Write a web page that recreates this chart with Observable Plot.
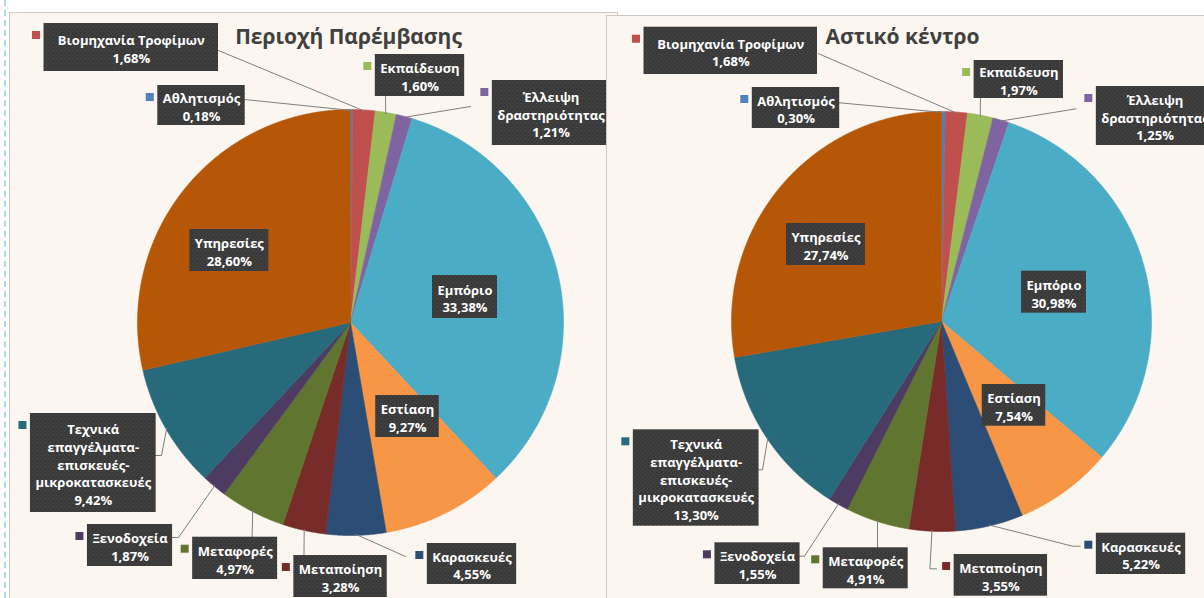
<!DOCTYPE html>
<html><head><meta charset="utf-8">
<script src="https://cdn.jsdelivr.net/npm/d3@7"></script>
<script src="https://cdn.jsdelivr.net/npm/@observablehq/plot@0.6"></script>
<style>
html,body{margin:0;padding:0;background:#fff;width:1204px;height:598px;overflow:hidden;font-family:'Open Sans',sans-serif}
.guide{position:absolute;left:4px;top:0;width:0;height:598px;border-left:2px dashed #a9dbe8}
.panel{position:absolute;background:#fcf6f0;border:1px solid #cdc8c3;overflow:hidden}
#p1{left:9px;top:12px;width:607px;height:600px}
#p2{left:606px;top:15px;width:620px;height:600px}
.panel svg{position:absolute;left:0;top:0}
g[aria-label="callout"] rect{filter:drop-shadow(2px 3px 2px rgba(0,0,0,.35))}
g[aria-label="pieshadow"]{filter:drop-shadow(0 0 7px rgba(120,90,60,.5))}
</style></head>
<body>
<svg width="0" height="0" style="position:absolute"><defs>
<pattern id="dots" width="4" height="4" patternUnits="userSpaceOnUse">
<rect width="4" height="4" fill="#3b3b3b"/><rect x="0" y="0" width="1" height="1" fill="#4a4a4a"/><rect x="2" y="2" width="1" height="1" fill="#4a4a4a"/><rect x="2" y="0" width="1" height="1" fill="#313131"/>
</pattern></defs></svg>
<div class="guide"></div>
<div class="panel" id="p1"></div>
<div class="panel" id="p2"></div>
<script>
// ---- data ----
const categories = ["Αθλητισμός","Βιομηχανία Τροφίμων","Εκπαίδευση","Έλλειψη\nδραστηριότητας","Εμπόριο","Εστίαση","Καρασκευές","Μεταποίηση","Μεταφορές","Ξενοδοχεία","Τεχνικά\nεπαγγέλματα-\nεπισκευές-\nμικροκατασκευές","Υπηρεσίες"];
const interventionArea = [0.18,1.68,1.60,1.21,33.38,9.27,4.55,3.28,4.97,1.87,9.42,28.60];
const urbanCentre = [0.30,1.68,1.97,1.25,30.98,7.54,5.22,3.55,4.91,1.55,13.30,27.74];
const titles = ["Περιοχή Παρέμβασης","Αστικό κέντρο"];
const colors = ["#4f81bd","#c0504d","#9bbb59","#8064a2","#4bacc6","#f79646","#2c4d75","#772c2a","#5f7530","#4d3b62","#276a7c","#b65708"];

// ---- layout (page pixels) ----
const pieLeft = {cx: 350, cy: 322, r: 213, title: [348, 37]};
const pieRight = {cx: 941, cy: 321, r: 210, title: [902, 37]};
const layoutLeft = [
  {box:[158,85,244,125], key:true, lead:[[244,99]]},
  {box:[43.5,23,218,71], key:true, lead:[[218,50]]},
  {box:[376,54,463,96], key:true, lead:[[385,96]]},
  {box:[494,80,607,145], key:true, lead:[[470,106]]},
  {box:[432,275,497,318], key:false, lead:null},
  {box:[376,395,438,437], key:false, lead:null},
  {box:[428,543,515,584], key:true, lead:[[405,556]]},
  {box:[294.6,555,385.5,597], key:true, lead:[[303.5,555]]},
  {box:[193.7,536.7,275.6,579], key:true, lead:[[251.6,536.7]]},
  {box:[88,524,171,566], key:true, lead:[[171,537],[178,537]]},
  {box:[31.6,413,154,512], key:true, lead:[[154,455],[161,455]]},
  {box:[191,229,266.7,271], key:false, lead:null}
];
const layoutRight = [
  {box:[755,87,836,128], key:true, lead:[[836,102]]},
  {box:[643.5,26.7,817,74], key:true, lead:[[817.6,53]]},
  {box:[975.6,60,1061,98], key:true, lead:[[980,98]]},
  {box:[1098,86,1211,145], key:true, lead:[[1075.7,108.3]]},
  {box:[1022,270.7,1085,312.7], key:false, lead:null},
  {box:[982,384,1045,425.7], key:false, lead:null},
  {box:[1097,532.7,1184,574], key:true, lead:[[1079.6,545.7],[1072,545.7]]},
  {box:[955,554,1045.7,595.7], key:true, lead:[[936,568.3],[929.4,568.3]]},
  {box:[823.4,547.3,907,588.3], key:true, lead:[[877,547.3]]},
  {box:[715.6,542.3,798.4,584], key:true, lead:[[798.4,555.7],[804,555.7]]},
  {box:[635.4,429.3,756,525.7], key:true, lead:[[756,469.3],[762,469.3]]},
  {box:[788,223,863,265], key:false, lead:null}
];

const FONT = "'Open Sans', sans-serif";
const FS = 13;
const ctx = document.createElement("canvas").getContext("2d");
ctx.font = `bold ${FS}px 'Open Sans'`;
const fmt = v => d3.format(".2f")(v).replace(".", ",") + "%";
const pie = d3.pie().sort(null).value(d => d).startAngle(0).endAngle(2 * Math.PI);

function build(values, layout, geo, title, x0, y0, W, H) {
  const {cx, cy, r} = geo;
  const arcs = pie(values);
  const slicePts = [];
  arcs.forEach((a, i) => {
    const n = Math.max(2, Math.ceil((a.endAngle - a.startAngle) / 0.004));
    slicePts.push({i, x: cx, y: cy});
    for (let k = 0; k <= n; k++) {
      const t = a.startAngle + (a.endAngle - a.startAngle) * k / n;
      slicePts.push({i, x: cx + r * Math.sin(t), y: cy - r * Math.cos(t)});
    }
    slicePts.push({i, x: cx, y: cy});
  });
  const circle = d3.range(0, 361).map(k => ({x: cx + r * Math.sin(k * Math.PI / 180), y: cy - r * Math.cos(k * Math.PI / 180)}));

  const boxes = [], keys = [], labels = [], leads = [];
  arcs.forEach((a, i) => {
    const L = layout[i];
    const text = categories[i] + "\n" + fmt(values[i]);
    const tw = d3.max(text.split("\n"), s => ctx.measureText(s).width);
    let [x1, y1, x2, y2] = L.box;
    const mx = (x1 + x2) / 2;
    const w = Math.max(x2 - x1, tw + 10);
    x1 = mx - w / 2; x2 = mx + w / 2;
    boxes.push({x1, y1, x2, y2});
    labels.push({x: mx, y: (y1 + y2) / 2 + 1, text});
    if (L.key) keys.push({x1: x1 - 11.5, x2: x1 - 3.5, y1: y1 + 8, y2: y1 + 16, c: colors[i]});
    if (L.lead) {
      const m = (a.startAngle + a.endAngle) / 2;
      const pts = L.lead.map(p => ({i, x: p[0], y: p[1]}));
      pts.push({i, x: cx + (r - 1) * Math.sin(m), y: cy - (r - 1) * Math.cos(m)});
      leads.push(...pts);
    }
  });

  return Plot.plot({
    width: W, height: H, margin: 0,
    x: {domain: [x0, x0 + W], range: [0, W], axis: null},
    y: {domain: [y0, y0 + H], range: [0, H], axis: null},
    color: {type: "identity"},
    style: {background: "none", fontFamily: FONT, overflow: "visible", maxWidth: "none", width: `${W}px`, height: `${H}px`},
    marks: [
      Plot.line(circle, {x: "x", y: "y", fill: "#eadccd", stroke: "none", ariaLabel: "pieshadow"}),
      Plot.line(slicePts, {x: "x", y: "y", z: "i", fill: d => colors[d.i], stroke: d => colors[d.i], strokeWidth: 0.6, curve: "linear"}),
      Plot.line(leads, {x: "x", y: "y", z: "i", stroke: "#7f7f7f", strokeWidth: 1, curve: "linear"}),
      Plot.rect(boxes, {x1: "x1", x2: "x2", y1: "y1", y2: "y2", fill: "url(#dots)", ariaLabel: "callout"}),
      Plot.rect(keys, {x1: "x1", x2: "x2", y1: "y1", y2: "y2", fill: "c"}),
      Plot.text(labels, {x: "x", y: "y", text: "text", fill: "white", fontWeight: "bold", fontSize: FS, lineHeight: 1.36, lineAnchor: "middle", textAnchor: "middle"}),
      Plot.text([title], {x: () => geo.title[0], y: () => geo.title[1], text: d => d, fill: "#404040", fontWeight: "bold", fontSize: 21})
    ]
  });
}

document.getElementById("p1").append(build(interventionArea, layoutLeft, pieLeft, titles[0], 10, 13, 607, 586));
document.getElementById("p2").append(build(urbanCentre, layoutRight, pieRight, titles[1], 607, 16, 620, 583));
</script>
</body></html>
